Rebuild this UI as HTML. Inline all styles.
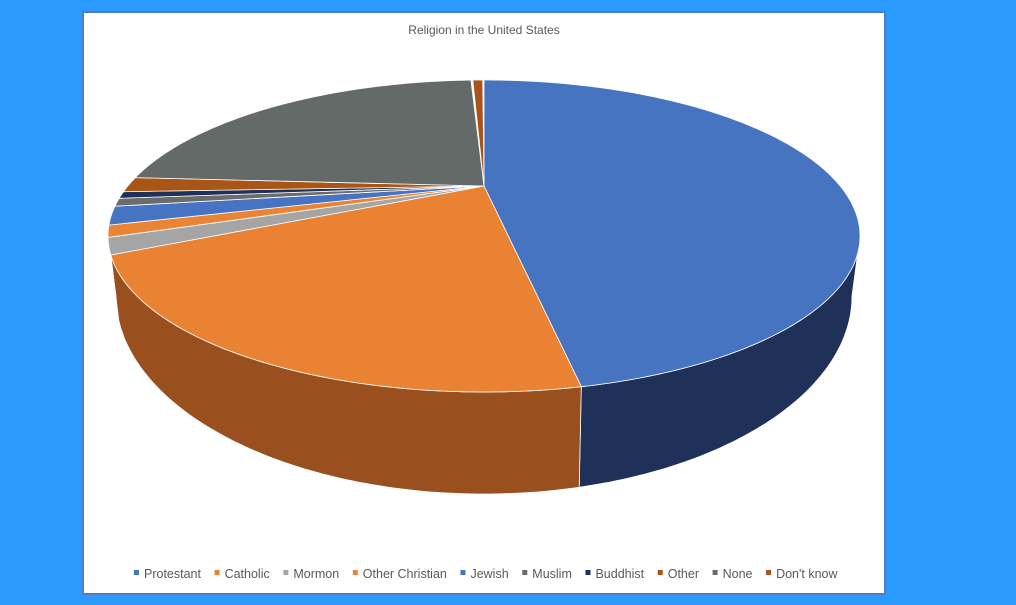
<!DOCTYPE html>
<html><head><meta charset="utf-8"><style>
body{margin:0;background:#2b9bff;width:1016px;height:605px;overflow:hidden;font-family:"Liberation Sans",sans-serif}
#f{position:absolute;left:82px;top:11px;width:800px;height:580px;background:#fff;border:2px solid #4a7fc8}
</style></head><body>
<div id="f"></div>
<svg id="s" width="1016" height="605" style="position:absolute;left:0;top:0">
<text x="484" y="34" font-size="12" fill="#595959" text-anchor="middle" font-family="Liberation Sans, sans-serif">Religion in the United States</text>
</svg>
<script>
const s=document.getElementById('s');const NS='http://www.w3.org/2000/svg';
const cx=484,cy=236,rx=376,ry=156,ax=484,ay=186;
const bx=484,by=296,brx=368,bry=198;
function P(t){t*=Math.PI/180;return [cx+rx*Math.sin(t),cy-ry*Math.cos(t)];}
function B(t){t*=Math.PI/180;return [bx+brx*Math.sin(t),by-bry*Math.cos(t)];}
function add(d,fill){const p=document.createElementNS(NS,'path');p.setAttribute('d',d);p.setAttribute('fill',fill);p.setAttribute('stroke','#fff');p.setAttribute('stroke-width','0.8');s.appendChild(p);}
const sl=[[0,165,'#4674c1','#1f3158'],[165,263,'#e98232','#9a4f1e'],[263,269.5,'#a5a5a5','#707070'],[269.5,274,'#ea8435','#9a4f1e'],[274,281,'#4774c2','#2c4a80'],[281,284,'#6b6b6b','#444'],[284,286.5,'#1e3159','#142040'],[286.5,292,'#a95516','#6d3710'],[292,358.3,'#646a68','#404442'],[358.3,360,'#a9531a','#6d3710']];
sl.forEach(([a,b,t,sd])=>{let a2=Math.max(a,90),b2=Math.min(b,270);if(a2>=b2)return;
 let d='';for(let x=a2;x<=b2;x+=1){const p=P(x);d+=(d?'L':'M')+p[0].toFixed(1)+','+p[1].toFixed(1);}
 for(let x=b2;x>=a2;x-=1){const p=B(x);d+='L'+p[0].toFixed(1)+','+p[1].toFixed(1);}
 add(d+'Z',sd);});
sl.forEach(([a,b,t])=>{let d='M'+ax+','+ay;for(let x=a;x<=b;x+=0.5){const p=P(x);d+='L'+p[0].toFixed(1)+','+p[1].toFixed(1);}add(d+'Z',t);});
const lg=[['Protestant','#4674c1'],['Catholic','#e98232'],['Mormon','#a5a5a5'],['Other Christian','#ea8435'],['Jewish','#4774c2'],['Muslim','#6b6b6b'],['Buddhist','#1e3159'],['Other','#a95516'],['None','#6b6b6b'],["Don't know",'#a9531a']];
let x=134;lg.forEach(([n,c])=>{const r=document.createElementNS(NS,'rect');r.setAttribute('x',x);r.setAttribute('y',570);r.setAttribute('width',5);r.setAttribute('height',5);r.setAttribute('fill',c);s.appendChild(r);
 const t=document.createElementNS(NS,'text');t.setAttribute('x',x+10);t.setAttribute('y',578);t.setAttribute('font-size','12.5');t.setAttribute('fill','#595959');t.setAttribute('font-family','Liberation Sans, sans-serif');t.textContent=n;s.appendChild(t);
 x+=10+t.getComputedTextLength()+13.6;});
</script>
</body></html>
